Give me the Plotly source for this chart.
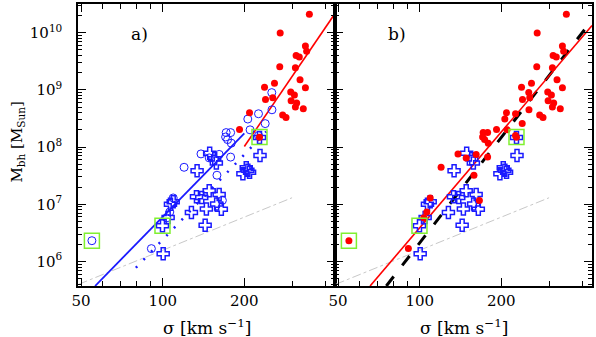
import plotly.graph_objects as go

# sigma [km/s] and M_bh [M_sun]
red_sig = [347.5, 271.2, 336, 339.6, 310.5, 319, 270.2, 308.6, 321, 258.4, 237.4, 336,
           296.6, 306, 239.4, 254.6, 297.6, 312, 308.6, 330, 277, 285, 209, 192, 227.5]
red_m = [2.09e10, 9.8e9, 5.83e9, 4.72e9, 3.98e9, 3.76e9, 2.52e9, 2.42e9, 1.50e9, 1.30e9, 1.11e9, 1.09e9,
         9.2e8, 8.16e8, 6.76e8, 7.24e8, 6.42e8, 5.86e8, 4.99e8, 4.67e8, 3.63e8, 3.3e8, 3.98e8, 2.02e8, 1.49e8]

circ_sig = [54.8, 90.8, 103.5, 106.2, 109.3, 119.9, 138.4, 148.4, 161.5, 158.5, 166, 178,
            171.4, 178, 170.6, 173.5, 179, 206, 210, 225.6, 238.8, 252.5, 252.9, 225.6]
circ_m = [2.31e6, 1.68e6, 5.79e6, 7.35e6, 1.29e7, 4.43e7, 7.59e7, 6.47e7, 7.44e7, 3.22e7, 1.17e7, 6.68e7,
          1.79e8, 1.79e8, 1.50e8, 1.35e8, 1.17e8, 3.09e8, 2.0e8, 3.82e8, 2.57e8, 8.94e8, 4.48e8, 1.59e8]

cross_sig = [99.8, 100.4, 104.7, 106.8, 109.3, 127.6, 133.2, 139.3, 133.9, 143.4, 144.9, 148.4,
             149, 155.5, 157.7, 161.5, 158.1, 164.5, 203.3, 206.1, 197.6, 209.1, 228.5, 227.5]
cross_m = [4.21e6, 1.36e6, 5.9e6, 1.0e7, 1.11e7, 7.15e6, 1.36e7, 1.31e7, 3.85e7, 4.29e6, 8.29e6, 1.73e7,
           7.83e7, 6.22e7, 5.26e7, 1.48e7, 1.01e7, 8.18e6, 4.34e7, 3.93e7, 3.42e7, 3.63e7, 7.14e7, 1.47e8]

box_sig = [54.8, 99.8, 227.5]
box_m = [2.31e6, 4.21e6, 1.50e8]

# fit lines (end points)
blue_fit_sig = [56.3, 200]
blue_fit_m = [3.73e5, 1.74e8]
blue_dot_sig = [79.6, 241]
blue_dot_m = [7.78e5, 1.86e8]
red_a_sig = [200, 430]
red_a_m = [1.02e8, 2.09e10]
red_b_sig = [65.6, 432]
red_b_m = [3.73e5, 1.33e10]
black_sig = [75.3, 407]
black_m = [3.73e5, 1.15e10]
grey_sig = [49, 300]
grey_m = [4.0e5, 1.3e7]

BLUE = "#1a1aff"
RED = "#ff0000"
GREEN = "#80f030"
FONT = "DejaVu Serif"

fig = go.Figure()

def line(x, y, xa, ya, color, width, dash="solid"):
    fig.add_trace(go.Scatter(x=x, y=y, mode="lines", xaxis=xa, yaxis=ya,
                             line=dict(color=color, width=width, dash=dash), showlegend=False))

def pts(x, y, xa, ya, symbol, size, color, lw=1.2):
    mk = dict(symbol=symbol, size=size, color=color, line=dict(color=color, width=lw))
    fig.add_trace(go.Scatter(x=x, y=y, mode="markers", xaxis=xa, yaxis=ya, marker=mk, showlegend=False))

# panel a
line(grey_sig, grey_m, "x", "y", "#c8c8c8", 1, "dashdot")
line(blue_fit_sig, blue_fit_m, "x", "y", BLUE, 1.8)
line(blue_dot_sig, blue_dot_m, "x", "y", BLUE, 2.5, "2px,9px")
line(red_a_sig, red_a_m, "x", "y", RED, 1.6)
pts(circ_sig, circ_m, "x", "y", "circle-open", 8, BLUE, 1)
pts(cross_sig, cross_m, "x", "y", "cross-open", 10, BLUE, 1.5)
pts(red_sig, red_m, "x", "y", "circle", 7, RED, 0)
pts(box_sig, box_m, "x", "y", "square-open", 15, GREEN, 1.5)

# panel b
line(grey_sig, grey_m, "x2", "y2", "#c8c8c8", 1, "dashdot")
line(black_sig, black_m, "x2", "y2", "black", 3, "12px,14px")
line(red_b_sig, red_b_m, "x2", "y2", RED, 1.6)
pts(cross_sig, cross_m, "x2", "y2", "cross-open", 10, BLUE, 1.5)
pts(red_sig + circ_sig, red_m + circ_m, "x2", "y2", "circle", 7, RED, 0)
pts(box_sig, box_m, "x2", "y2", "square-open", 15, GREEN, 1.5)

x_major = [50, 100, 200]
x_minor = [60, 70, 80, 90, 300, 400]
y_major = [1e6, 1e7, 1e8, 1e9, 1e10]
y_text = ["10<sup>6</sup>", "10<sup>7</sup>", "10<sup>8</sup>", "10<sup>9</sup>", "10<sup>10</sup>"]
y_minor = [k * 10 ** e for e in range(5, 11) for k in range(2, 10)]

xax = dict(type="log", range=[1.6875, 2.6355], showgrid=False, zeroline=False,
           showline=True, linecolor="black", linewidth=1.5, mirror="ticks",
           ticks="inside", ticklen=8, tickwidth=1, tickcolor="black",
           tickvals=x_major, ticktext=[str(v) for v in x_major],
           tickfont=dict(family=FONT, size=15, color="black"),
           minor=dict(tickvals=x_minor, ticks="inside", ticklen=5, tickcolor="black", showgrid=False))
yax = dict(type="log", range=[5.572, 10.5], showgrid=False, zeroline=False,
           showline=True, linecolor="black", linewidth=1.5, mirror="ticks",
           ticks="inside", ticklen=8, tickwidth=1, tickcolor="black",
           tickvals=y_major, ticktext=y_text,
           tickfont=dict(family=FONT, size=15, color="black"),
           minor=dict(tickvals=y_minor, ticks="inside", ticklen=4, tickcolor="black", showgrid=False))

fig.update_layout(
    width=596, height=337,
    margin=dict(l=78, r=2, t=2, b=51),
    plot_bgcolor="white", paper_bgcolor="white",
    font=dict(family=FONT, color="black"),
    xaxis=dict(xax, domain=[0, 0.5], anchor="y"),
    xaxis2=dict(xax, domain=[0.5, 1], anchor="y2"),
    yaxis=dict(yax, anchor="x", ticklabelstandoff=11),
    yaxis2=dict(yax, anchor="x2", showticklabels=False),
)

fig.add_annotation(x=0.12, y=0.895, xref="paper", yref="paper", text="a)", showarrow=False,
                   font=dict(family=FONT, size=17), xanchor="center", yanchor="middle")
fig.add_annotation(x=0.62, y=0.895, xref="paper", yref="paper", text="b)", showarrow=False,
                   font=dict(family=FONT, size=17), xanchor="center", yanchor="middle")
xt = "\u03c3 [km s<sup>\u22121</sup>]"
fig.add_annotation(x=0.25, y=-0.1, xref="paper", yref="paper", text=xt, showarrow=False,
                   font=dict(family=FONT, size=17), xanchor="center", yanchor="top")
fig.add_annotation(x=0.75, y=-0.1, xref="paper", yref="paper", text=xt, showarrow=False,
                   font=dict(family=FONT, size=17), xanchor="center", yanchor="top")
fig.add_annotation(x=-0.118, y=0.51, xref="paper", yref="paper",
                   text="M<sub>bh</sub> [M<sub>Sun</sub>]", textangle=-90, showarrow=False,
                   font=dict(family=FONT, size=15), xanchor="center", yanchor="middle")

fig.write_html("out.html", config={"displayModeBar": False},
               post_script="document.body.style.margin='0';")
